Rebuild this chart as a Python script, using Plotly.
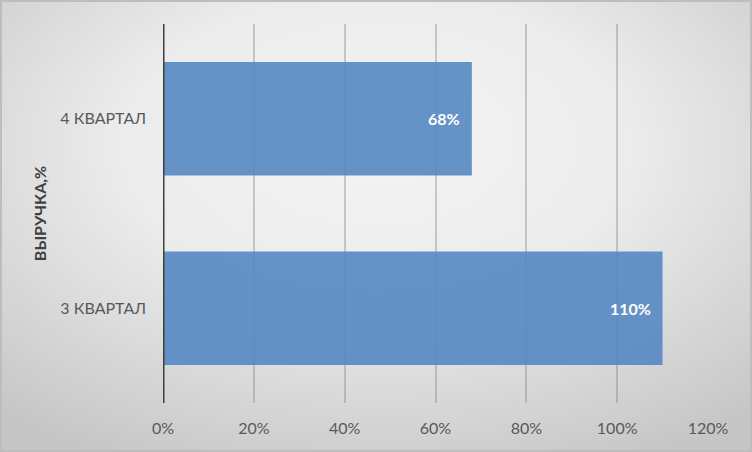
import plotly.graph_objects as go
import urllib.parse

categories = ["3 КВАРТАЛ", "4 КВАРТАЛ"]
values = [1.10, 0.68]
tick_vals = [0, 0.2, 0.4, 0.6, 0.8, 1.0, 1.2]
tick_text = ["0%", "20%", "40%", "60%", "80%", "100%", "120%"]
axis_title = "ВЫРУЧКА,%"

W, H = 752, 452
L, R, T, B = 163, 44, 24, 49
pw, ph = W - L - R, H - T - B

svg = (
    f'<svg xmlns="http://www.w3.org/2000/svg" width="{W}" height="{H}">'
    '<defs><radialGradient id="g" cx="50%" cy="35%" r="75%" fx="50%" fy="30%">'
    '<stop offset="0%" stop-color="#f4f4f4"/>'
    '<stop offset="45%" stop-color="#ececec"/>'
    '<stop offset="100%" stop-color="#c6c6c6"/>'
    '</radialGradient></defs>'
    f'<rect x="0" y="0" width="{W}" height="{H}" fill="url(#g)"/>'
    f'<rect x="1" y="1" width="{W-2}" height="{H-2}" fill="none" stroke="#bdbdbd" stroke-width="2"/>'
    '</svg>'
)
bg = "data:image/svg+xml;charset=utf-8," + urllib.parse.quote(svg)

FONT = "Lato, Open Sans, sans-serif"

fig = go.Figure(
    go.Bar(
        x=values,
        y=categories,
        orientation="h",
        marker=dict(color="rgb(86,136,194)", opacity=0.9, line=dict(width=0)),
        width=0.6,
        hoverinfo="x+y",
    )
)

for v, c in zip(values, categories):
    fig.add_annotation(
        x=v, y=c, xref="x", yref="y",
        text=f"<b>{v:.0%}</b>",
        showarrow=False,
        xanchor="right",
        xshift=-10,
        font=dict(family=FONT, size=16, color="white"),
    )

fig.update_layout(
    width=W,
    height=H,
    margin=dict(l=L, r=R, t=T, b=B),
    paper_bgcolor="#e6e6e6",
    plot_bgcolor="rgba(0,0,0,0)",
    showlegend=False,
    font=dict(family=FONT, size=16, color="#595959"),
    images=[
        dict(
            source=bg,
            xref="paper",
            yref="paper",
            x=-L / pw,
            y=1 + T / ph,
            sizex=W / pw,
            sizey=H / ph,
            sizing="stretch",
            xanchor="left",
            yanchor="top",
            layer="below",
        )
    ],
)

fig.update_xaxes(
    range=[0, 1.2],
    tickvals=tick_vals,
    ticktext=tick_text,
    showgrid=True,
    gridcolor="rgba(120,120,120,0.35)",
    gridwidth=2,
    zeroline=False,
    showline=False,
    ticks="",
    ticklabelstandoff=14,
    tickfont=dict(size=16, color="#595959"),
    automargin=False,
)
fig.update_yaxes(
    showgrid=False,
    zeroline=False,
    showline=False,
    ticks="",
    ticklabelstandoff=16,
    tickfont=dict(size=16, color="#595959"),
    title=dict(text=axis_title, font=dict(size=16, color="#404040", weight="bold"), standoff=9),
    automargin=False,
)

fig.add_shape(
    type="line", xref="x", yref="paper", x0=0, x1=0, y0=0, y1=1,
    line=dict(color="#3f3f3f", width=3), layer="above",
)

fig.write_html(
    "out.html",
    config={"displayModeBar": False},
    post_script="document.body.style.margin='0';",
)
